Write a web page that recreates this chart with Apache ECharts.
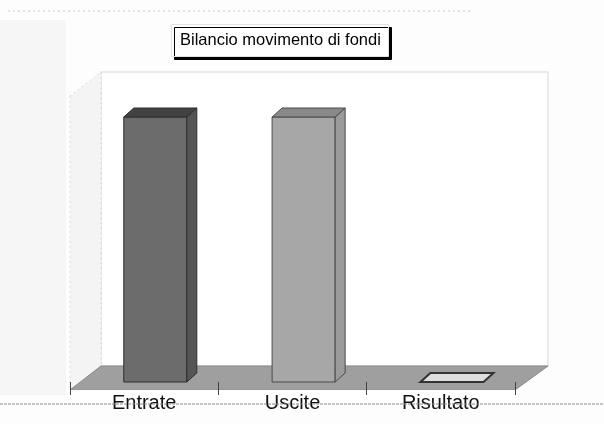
<!DOCTYPE html>
<html>
<head>
<meta charset="utf-8">
<script src="https://cdn.jsdelivr.net/npm/echarts@6/dist/echarts.min.js"></script>
<style>
  html, body { margin: 0; padding: 0; background: #fdfdfd; }
  #chart { width: 604px; height: 424px; }
</style>
</head>
<body>
<div id="chart"></div>
<script>
const categories = ['Entrate', 'Uscite', 'Risultato']
const values = [100, 100, 0]

// colori delle facce: [fronte, sopra, lato]
const faceColors = [
  ['#6c6c6c', '#424242', '#555555'],
  ['#a7a7a7', '#898989', '#9b9b9b'],
  ['#dedede', '#dedede', '#dedede']
]

// piano frontale del grafico
const G = { left: 70, right: 515, top: 117, base: 382 }
const floorFront = 390
const floorDx = 31
const floorDy = -24
const wallTop = 72
const barDx = 10
const barDy = -9

const myChart = echarts.init(document.getElementById('chart'))

function renderBar (params, api) {
  const idx = api.value(0)
  const top = api.coord([idx, api.value(1)])
  const bottom = api.coord([idx, 0])
  const band = api.size([1, 0])[0]
  const w = band * 0.425
  const x0 = top[0] + band * 0.075 - w / 2
  const x1 = x0 + w
  const yT = top[1]
  const yB = bottom[1]
  const c = faceColors[idx]
  const stroke = idx === 0 ? '#2e2e2e' : '#4a4a4a'
  const children = []
  if (yB - yT > 0.5) {
    children.push({
      type: 'polygon',
      shape: { points: [[x0, yB], [x1, yB], [x1, yT], [x0, yT]] },
      style: { fill: c[0], stroke: stroke, lineWidth: 1 }
    })
    children.push({
      type: 'polygon',
      shape: { points: [[x1, yB], [x1 + barDx, yB + barDy], [x1 + barDx, yT + barDy], [x1, yT]] },
      style: { fill: c[2], stroke: stroke, lineWidth: 1 }
    })
  }
  children.push({
    type: 'polygon',
    shape: { points: [[x0, yT], [x0 + barDx, yT + barDy], [x1 + barDx, yT + barDy], [x1, yT]] },
    style: { fill: c[1], stroke: idx === 2 ? '#333' : stroke, lineWidth: idx === 2 ? 2 : 1 }
  })
  return { type: 'group', children: children }
}

const option = {
  backgroundColor: '#fdfdfd',
  animation: false,
  title: {
    text: 'Bilancio movimento di fondi',
    left: 171,
    top: 24,
    padding: [8, 8, 8, 9],
    backgroundColor: '#ffffff',
    borderColor: '#e2e2e2',
    borderWidth: 1,
    shadowColor: '#000',
    shadowBlur: 0,
    shadowOffsetX: 3,
    shadowOffsetY: 3,
    textStyle: {
      fontFamily: 'Liberation Sans, Arial, sans-serif',
      fontSize: 16.5,
      fontWeight: 'normal',
      color: '#000'
    }
  },
  graphic: [
    // fondo sinistro (texture della scansione)
    { type: 'rect', z: -10, shape: { x: 0, y: 20, width: G.left - 4, height: floorFront - 15 },
      style: { fill: '#f6f6f6' } },
    // linea tratteggiata in alto
    { type: 'line', z: -10, shape: { x1: 8, y1: 11, x2: 470, y2: 11 },
      style: { stroke: '#c9c9c9', lineWidth: 1, lineDash: [2, 3] } },
    // parete di fondo
    { type: 'rect', z: -9,
      shape: { x: G.left + floorDx, y: wallTop, width: G.right - G.left + 2, height: floorFront + floorDy - wallTop },
      style: { fill: '#ffffff', stroke: '#e4e4e4', lineWidth: 1.5 } },
    // parete sinistra
    { type: 'polygon', z: -9,
      shape: { points: [[G.left, wallTop - floorDy], [G.left + floorDx, wallTop], [G.left + floorDx, floorFront + floorDy], [G.left, floorFront]] },
      style: { fill: '#f4f4f4', stroke: '#c4c4c4', lineWidth: 1, lineDash: [1, 4] } },
    // pavimento
    { type: 'polygon', z: -8,
      shape: { points: [[G.left, floorFront], [G.left + floorDx, floorFront + floorDy], [G.right + floorDx + 2, floorFront + floorDy], [G.right, floorFront]] },
      style: { fill: '#9f9f9f', stroke: '#8a8a8a', lineWidth: 1 } },
    // striscia bianca sotto il pavimento
    { type: 'rect', z: -8, shape: { x: G.left, y: floorFront, width: G.right - G.left, height: 13 },
      style: { fill: '#ffffff' } },
    // linea della scansione
    { type: 'line', z: 5, shape: { x1: 0, y1: 404, x2: 604, y2: 404 },
      style: { stroke: '#8c8c8c', lineWidth: 1, lineDash: [3, 1] } }
  ],
  grid: {
    left: G.left,
    right: 604 - G.right,
    top: G.top,
    bottom: 424 - G.base
  },
  xAxis: {
    type: 'category',
    data: categories,
    boundaryGap: true,
    offset: floorFront - G.base,
    axisLine: { show: false },
    axisTick: { show: true, length: 13, lineStyle: { color: '#444', width: 1 } },
    axisLabel: {
      margin: 3,
      color: '#111',
      fontSize: 20,
      fontFamily: 'Liberation Sans, Arial, sans-serif'
    },
    splitLine: { show: false }
  },
  yAxis: {
    type: 'value',
    min: 0,
    max: 100,
    show: false
  },
  series: [
    {
      type: 'custom',
      renderItem: renderBar,
      data: values.map((v, i) => [i, v]),
      encode: { x: 0, y: 1 },
      z: 3
    }
  ]
}
myChart.setOption(option)
</script>
</body>
</html>
